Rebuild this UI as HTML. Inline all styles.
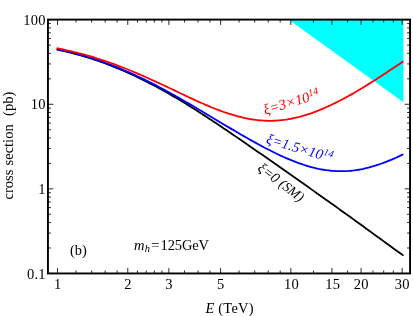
<!DOCTYPE html>
<html><head><meta charset="utf-8"><title>plot</title>
<style>
html,body{margin:0;padding:0;background:#fff;}
svg{display:block;font-family:"Liberation Serif",serif;font-size:14.5px;fill:#000;will-change:transform;}
.i{font-style:italic;}
.t{letter-spacing:0.25px;}
</style></head><body>
<svg width="413" height="316" viewBox="0 0 413 316">
<rect width="413" height="316" fill="#fff"/>
<path d="M288.6,19.6 L403.4,19.6 L403.4,102.26Z" fill="#00ffff"/>
<path d="M56.69,49.55 L59.18,50.06 L61.67,50.60 L64.17,51.16 L66.66,51.74 L69.16,52.34 L71.65,52.96 L74.15,53.60 L76.64,54.26 L79.13,54.95 L81.63,55.66 L84.12,56.39 L86.62,57.14 L89.11,57.91 L91.61,58.71 L94.10,59.52 L96.59,60.36 L99.09,61.22 L101.58,62.10 L104.08,63.01 L106.57,63.93 L109.07,64.88 L111.56,65.84 L114.05,66.83 L116.55,67.84 L119.04,68.87 L121.54,69.92 L124.03,70.99 L126.53,72.09 L129.02,73.20 L131.52,74.34 L134.01,75.50 L136.50,76.67 L139.00,77.87 L141.49,79.09 L143.99,80.33 L146.48,81.59 L148.98,82.86 L151.47,84.16 L153.96,85.47 L156.46,86.80 L158.95,88.16 L161.45,89.52 L163.94,90.91 L166.44,92.31 L168.93,93.73 L171.42,95.17 L173.92,96.62 L176.41,98.09 L178.91,99.57 L181.40,101.07 L183.90,102.58 L186.39,104.10 L188.88,105.64 L191.38,107.19 L193.87,108.75 L196.37,110.33 L198.86,111.91 L201.36,113.51 L203.85,115.12 L206.35,116.74 L208.84,118.38 L211.33,120.02 L213.83,121.68 L216.32,123.35 L218.82,125.02 L221.31,126.70 L223.81,128.38 L226.30,130.07 L228.79,131.77 L231.29,133.47 L233.78,135.17 L236.28,136.88 L238.77,138.60 L241.27,140.33 L243.76,142.05 L246.25,143.78 L248.75,145.51 L251.24,147.23 L253.74,148.96 L256.23,150.67 L258.73,152.39 L261.22,154.11 L263.71,155.84 L266.21,157.57 L268.70,159.30 L271.20,161.04 L273.69,162.78 L276.19,164.52 L278.68,166.26 L281.18,168.01 L283.67,169.76 L286.16,171.51 L288.66,173.27 L291.15,175.03 L293.65,176.78 L296.14,178.54 L298.64,180.30 L301.13,182.06 L303.62,183.82 L306.12,185.59 L308.61,187.35 L311.11,189.12 L313.60,190.88 L316.10,192.65 L318.59,194.42 L321.08,196.19 L323.58,197.96 L326.07,199.73 L328.57,201.51 L331.06,203.29 L333.56,205.06 L336.05,206.84 L338.54,208.62 L341.04,210.41 L343.53,212.19 L346.03,213.98 L348.52,215.77 L351.02,217.56 L353.51,219.36 L356.01,221.17 L358.50,222.98 L360.99,224.79 L363.49,226.60 L365.98,228.41 L368.48,230.23 L370.97,232.05 L373.47,233.87 L375.96,235.69 L378.45,237.51 L380.95,239.33 L383.44,241.14 L385.94,242.96 L388.43,244.78 L390.93,246.59 L393.42,248.40 L395.91,250.21 L398.41,252.02 L400.90,253.82 L403.40,255.62" fill="none" stroke="#000" stroke-width="1.8"/>
<path d="M56.69,49.12 L59.18,49.63 L61.67,50.16 L64.17,50.71 L66.66,51.28 L69.16,51.88 L71.65,52.49 L74.15,53.12 L76.64,53.78 L79.13,54.46 L81.63,55.15 L84.12,55.87 L86.62,56.62 L89.11,57.38 L91.61,58.16 L94.10,58.97 L96.59,59.79 L99.09,60.64 L101.58,61.51 L104.08,62.40 L106.57,63.30 L109.07,64.23 L111.56,65.18 L114.05,66.15 L116.55,67.14 L119.04,68.15 L121.54,69.18 L124.03,70.23 L126.53,71.31 L129.02,72.40 L131.52,73.51 L134.01,74.64 L136.50,75.79 L139.00,76.96 L141.49,78.14 L143.99,79.35 L146.48,80.57 L148.98,81.81 L151.47,83.07 L153.96,84.34 L156.46,85.63 L158.95,86.94 L161.45,88.26 L163.94,89.59 L166.44,90.94 L168.93,92.31 L171.42,93.69 L173.92,95.08 L176.41,96.48 L178.91,97.90 L181.40,99.32 L183.90,100.76 L186.39,102.20 L188.88,103.65 L191.38,105.12 L193.87,106.58 L196.37,108.06 L198.86,109.54 L201.36,111.02 L203.85,112.51 L206.35,114.00 L208.84,115.49 L211.33,116.98 L213.83,118.47 L216.32,119.97 L218.82,121.46 L221.31,122.95 L223.81,124.43 L226.30,125.92 L228.79,127.39 L231.29,128.87 L233.78,130.33 L236.28,131.79 L238.77,133.25 L241.27,134.69 L243.76,136.13 L246.25,137.56 L248.75,138.98 L251.24,140.38 L253.74,141.77 L256.23,143.15 L258.73,144.51 L261.22,145.86 L263.71,147.19 L266.21,148.49 L268.70,149.78 L271.20,151.05 L273.69,152.29 L276.19,153.50 L278.68,154.69 L281.18,155.85 L283.67,156.98 L286.16,158.08 L288.66,159.15 L291.15,160.18 L293.65,161.18 L296.14,162.13 L298.64,163.06 L301.13,163.93 L303.62,164.77 L306.12,165.57 L308.61,166.31 L311.11,167.02 L313.60,167.67 L316.10,168.27 L318.59,168.82 L321.08,169.31 L323.58,169.75 L326.07,170.14 L328.57,170.46 L331.06,170.73 L333.56,170.94 L336.05,171.10 L338.54,171.19 L341.04,171.22 L343.53,171.19 L346.03,171.10 L348.52,170.95 L351.02,170.74 L353.51,170.47 L356.01,170.14 L358.50,169.75 L360.99,169.30 L363.49,168.80 L365.98,168.23 L368.48,167.62 L370.97,166.95 L373.47,166.23 L375.96,165.46 L378.45,164.64 L380.95,163.77 L383.44,162.86 L385.94,161.91 L388.43,160.92 L390.93,159.90 L393.42,158.83 L395.91,157.73 L398.41,156.60 L400.90,155.43 L403.40,154.24" fill="none" stroke="#0000ff" stroke-width="1.8"/>
<path d="M56.69,48.21 L59.18,48.69 L61.67,49.20 L64.17,49.73 L66.66,50.27 L69.16,50.83 L71.65,51.41 L74.15,52.01 L76.64,52.62 L79.13,53.26 L81.63,53.91 L84.12,54.59 L86.62,55.28 L89.11,55.99 L91.61,56.73 L94.10,57.48 L96.59,58.25 L99.09,59.04 L101.58,59.85 L104.08,60.68 L106.57,61.53 L109.07,62.40 L111.56,63.29 L114.05,64.19 L116.55,65.11 L119.04,66.06 L121.54,67.02 L124.03,67.99 L126.53,68.98 L129.02,69.99 L131.52,71.02 L134.01,72.06 L136.50,73.11 L139.00,74.18 L141.49,75.26 L143.99,76.35 L146.48,77.46 L148.98,78.57 L151.47,79.70 L153.96,80.83 L156.46,81.97 L158.95,83.13 L161.45,84.28 L163.94,85.45 L166.44,86.62 L168.93,87.80 L171.42,88.98 L173.92,90.16 L176.41,91.35 L178.91,92.54 L181.40,93.72 L183.90,94.90 L186.39,96.08 L188.88,97.25 L191.38,98.41 L193.87,99.56 L196.37,100.71 L198.86,101.84 L201.36,102.95 L203.85,104.05 L206.35,105.13 L208.84,106.19 L211.33,107.22 L213.83,108.23 L216.32,109.22 L218.82,110.18 L221.31,111.10 L223.81,112.00 L226.30,112.86 L228.79,113.68 L231.29,114.47 L233.78,115.21 L236.28,115.92 L238.77,116.59 L241.27,117.21 L243.76,117.79 L246.25,118.32 L248.75,118.80 L251.24,119.24 L253.74,119.62 L256.23,119.96 L258.73,120.24 L261.22,120.46 L263.71,120.63 L266.21,120.74 L268.70,120.80 L271.20,120.80 L273.69,120.74 L276.19,120.63 L278.68,120.45 L281.18,120.22 L283.67,119.94 L286.16,119.60 L288.66,119.20 L291.15,118.75 L293.65,118.24 L296.14,117.68 L298.64,117.07 L301.13,116.41 L303.62,115.70 L306.12,114.94 L308.61,114.14 L311.11,113.29 L313.60,112.39 L316.10,111.45 L318.59,110.47 L321.08,109.45 L323.58,108.40 L326.07,107.30 L328.57,106.17 L331.06,105.01 L333.56,103.81 L336.05,102.58 L338.54,101.32 L341.04,100.04 L343.53,98.72 L346.03,97.37 L348.52,95.99 L351.02,94.59 L353.51,93.16 L356.01,91.70 L358.50,90.23 L360.99,88.73 L363.49,87.21 L365.98,85.68 L368.48,84.13 L370.97,82.56 L373.47,80.98 L375.96,79.39 L378.45,77.78 L380.95,76.17 L383.44,74.54 L385.94,72.91 L388.43,71.26 L390.93,69.62 L393.42,67.96 L395.91,66.30 L398.41,64.64 L400.90,62.97 L403.40,61.30" fill="none" stroke="#ff0000" stroke-width="1.8"/>
<path d="M57.55,273.45v-5.35M57.55,19.6v5.35M127.78,273.45v-5.35M127.78,19.6v5.35M168.86,273.45v-5.35M168.86,19.6v5.35M220.62,273.45v-5.35M220.62,19.6v5.35M290.85,273.45v-5.35M290.85,19.6v5.35M331.93,273.45v-5.35M331.93,19.6v5.35M361.08,273.45v-5.35M361.08,19.6v5.35M402.16,273.45v-5.35M402.16,19.6v5.35M76.02,273.45v-2.95M76.02,19.6v2.95M91.64,273.45v-2.95M91.64,19.6v2.95M105.17,273.45v-2.95M105.17,19.6v2.95M117.11,273.45v-2.95M117.11,19.6v2.95M137.44,273.45v-2.95M137.44,19.6v2.95M146.25,273.45v-2.95M146.25,19.6v2.95M154.36,273.45v-2.95M154.36,19.6v2.95M161.87,273.45v-2.95M161.87,19.6v2.95M184.48,273.45v-2.95M184.48,19.6v2.95M198.01,273.45v-2.95M198.01,19.6v2.95M209.94,273.45v-2.95M209.94,19.6v2.95M239.09,273.45v-2.95M239.09,19.6v2.95M254.71,273.45v-2.95M254.71,19.6v2.95M268.24,273.45v-2.95M268.24,19.6v2.95M280.17,273.45v-2.95M280.17,19.6v2.95M313.46,273.45v-2.95M313.46,19.6v2.95M347.55,273.45v-2.95M347.55,19.6v2.95M373.01,273.45v-2.95M373.01,19.6v2.95M383.69,273.45v-2.95M383.69,19.6v2.95M393.35,273.45v-2.95M393.35,19.6v2.95M47.95,19.70h5.35M410.05,19.70h-5.35M47.95,104.28h5.35M410.05,104.28h-5.35M47.95,188.86h5.35M410.05,188.86h-5.35M47.95,273.44h5.35M410.05,273.44h-5.35M47.95,78.82h2.95M410.05,78.82h-2.95M47.95,63.93h2.95M410.05,63.93h-2.95M47.95,53.36h2.95M410.05,53.36h-2.95M47.95,45.16h2.95M410.05,45.16h-2.95M47.95,38.46h2.95M410.05,38.46h-2.95M47.95,32.80h2.95M410.05,32.80h-2.95M47.95,27.90h2.95M410.05,27.90h-2.95M47.95,23.57h2.95M410.05,23.57h-2.95M47.95,163.40h2.95M410.05,163.40h-2.95M47.95,148.51h2.95M410.05,148.51h-2.95M47.95,137.94h2.95M410.05,137.94h-2.95M47.95,129.74h2.95M410.05,129.74h-2.95M47.95,123.04h2.95M410.05,123.04h-2.95M47.95,117.38h2.95M410.05,117.38h-2.95M47.95,112.48h2.95M410.05,112.48h-2.95M47.95,108.15h2.95M410.05,108.15h-2.95M47.95,247.98h2.95M410.05,247.98h-2.95M47.95,233.09h2.95M410.05,233.09h-2.95M47.95,222.52h2.95M410.05,222.52h-2.95M47.95,214.32h2.95M410.05,214.32h-2.95M47.95,207.62h2.95M410.05,207.62h-2.95M47.95,201.96h2.95M410.05,201.96h-2.95M47.95,197.06h2.95M410.05,197.06h-2.95M47.95,192.73h2.95M410.05,192.73h-2.95" fill="none" stroke="#000" stroke-width="0.85"/>
<rect x="47.95" y="19.6" width="362.10" height="253.85" fill="none" stroke="#000" stroke-width="1.9"/>
<g class="t"><text x="57.75" y="289.2" text-anchor="middle">1</text><text x="127.98" y="289.2" text-anchor="middle">2</text><text x="169.06" y="289.2" text-anchor="middle">3</text><text x="220.82" y="289.2" text-anchor="middle">5</text><text x="291.55" y="289.2" text-anchor="middle">10</text><text x="332.63" y="289.2" text-anchor="middle">15</text><text x="361.28" y="289.2" text-anchor="middle">20</text><text x="402.36" y="289.2" text-anchor="middle">30</text>
<text x="45.75" y="24.60" text-anchor="end">100</text><text x="45.75" y="109.23" text-anchor="end">10</text><text x="45.75" y="193.86" text-anchor="end">1</text><text x="45.75" y="278.54" text-anchor="end">0.1</text></g>
<text x="229.6" y="312.6" text-anchor="middle" letter-spacing="0.2"><tspan class="i">E</tspan> (TeV)</text>
<text transform="translate(13.2,145.6) rotate(-90)" text-anchor="middle" word-spacing="0.6" xml:space="preserve">cross section  (pb)</text>
<text x="70.0" y="254.6">(b)</text>
<text x="134" y="250.2"><tspan class="i">m</tspan><tspan class="i" font-size="10.5px" dy="2" dx="0.3">h</tspan><tspan dy="-2" dx="1.2" letter-spacing="0.35">=</tspan><tspan dx="0.8" letter-spacing="-0.12">125GeV</tspan></text>
<text class="i" fill="#ff0000" transform="translate(265,114.7) rotate(-16.5)">ξ=3×10<tspan font-size="10px" dy="-5">14</tspan></text>
<text class="i" fill="#0000ff" transform="translate(265.5,143) rotate(16.5)">ξ=1.5×10<tspan font-size="10px" dy="-5">14</tspan></text>
<text class="i" transform="translate(256.8,169.7) rotate(37)">ξ=0 <tspan font-size="13.7px" dx="-0.3">(SM)</tspan></text>
</svg>
</body></html>
